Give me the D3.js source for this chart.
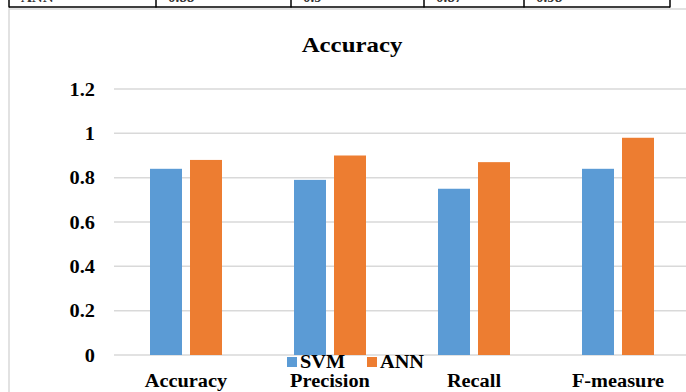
<!DOCTYPE html>
<html><head><meta charset="utf-8">
<script src="https://cdn.jsdelivr.net/npm/d3@7"></script>
<style>body{margin:0;background:#fff}svg{display:block}text{font-family:"Liberation Serif","Times New Roman",serif;font-weight:bold}</style>
</head><body><svg id="c" width="686" height="392"></svg>
<script>
const categories = ["Accuracy","Precision","Recall","F-measure"];
const series = ["SVM","ANN"];
const svmValues = [0.84,0.79,0.75,0.84];
const annValues = [0.88,0.90,0.87,0.98];
const yTicks = [0,0.2,0.4,0.6,0.8,1,1.2];
const tableRow = ["ANN","0.88","0.9","0.87","0.98"];
const colors = ["#5B9BD5","#ED7D31"];
const SX = 1.13;
const FONT = '"Liberation Serif","Times New Roman",serif';

const svg = d3.select("#c");
// table fragment at top (cut off by the page edge, as in the reference)
const colEdges = [9,156,291,424,524,670];
const tg = svg.append("g");
tg.append("line").attr("x1",colEdges[0]).attr("x2",colEdges[5]).attr("y1",7).attr("y2",7).attr("stroke","#000").attr("stroke-width",1.5);
colEdges.forEach(x=>tg.append("line").attr("x1",x).attr("x2",x).attr("y1",0).attr("y2",7.5).attr("stroke","#000").attr("stroke-width",1.5));
tableRow.forEach((t,i)=>tg.append("text").attr("x",colEdges[i]+12).attr("y",2).attr("font-size",15).attr("font-weight","normal").attr("fill","#333").text(t));

// chart frame
svg.append("rect").attr("x",9).attr("y",9).attr("width",700).attr("height",400).attr("fill","none").attr("stroke","#D9D9D9").attr("stroke-width",1.5);

const x0 = d3.scaleBand().domain(categories).range([114,690]);
const x1 = d3.scaleBand().domain(series).range([0,x0.bandwidth()]).paddingInner(0.2).paddingOuter(0.9);
const y = d3.scaleLinear().domain([0,1.2]).range([355,89]);

function sText(sel, x, yy, size, anchor, txt){
  return sel.append("text").attr("transform",`translate(${x},${yy}) scale(${SX},1)`)
    .attr("text-anchor",anchor).attr("font-size",size).text(txt);
}
sText(svg,352,52,22,"middle","Accuracy");

svg.append("g").selectAll("line").data(yTicks).join("line")
  .attr("x1",114).attr("x2",690).attr("y1",d=>y(d)).attr("y2",d=>y(d))
  .attr("stroke","#D9D9D9").attr("stroke-width",1.5);

const yAxis = d3.axisLeft(y).tickValues(yTicks).tickSize(0).tickPadding(0).tickFormat(d=>d3.format("~g")(d));
const yg = svg.append("g").attr("transform","translate(95,0)").call(yAxis);
yg.select(".domain").remove();
yg.selectAll("text").attr("x",0).attr("font-size",18).attr("fill","#000").attr("dy","0.34em")
  .attr("transform",`scale(${SX},1)`).style("font-family",FONT).style("font-weight","bold");

const data = categories.map((c,i)=>({c, vals:[svmValues[i],annValues[i]]}));
const g = svg.append("g").selectAll("g").data(data).join("g").attr("transform",d=>`translate(${x0(d.c)},0)`);
g.selectAll("rect").data(d=>d.vals.map((v,j)=>({s:series[j],v,j}))).join("rect")
  .attr("x",d=>x1(d.s)).attr("width",x1.bandwidth())
  .attr("y",d=>y(d.v)).attr("height",d=>y(0)-y(d.v)).attr("fill",d=>colors[d.j]);

const xAxis = d3.axisBottom(x0).tickSize(0).tickPadding(0);
const xg = svg.append("g").attr("transform","translate(0,387)").call(xAxis);
xg.select(".domain").remove();
xg.selectAll("text").attr("y",0).attr("dy",0).attr("font-size",18).attr("fill","#000")
  .attr("transform",`scale(${SX},1)`).style("font-family",FONT).style("font-weight","bold");

// legend
const legendPos = [287,367];
const lg = svg.append("g");
series.forEach((s,i)=>{
  lg.append("rect").attr("x",legendPos[i]).attr("y",357).attr("width",10).attr("height",10).attr("fill",colors[i]);
  sText(lg, legendPos[i]+13, 368, 18, "start", s);
});
</script></body></html>
